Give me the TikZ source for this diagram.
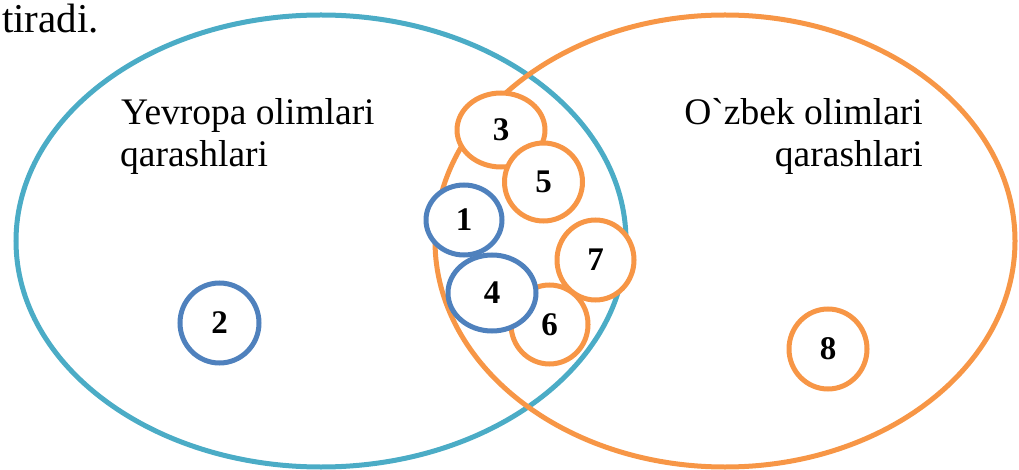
\documentclass[tikz,border=0pt]{standalone}
\usepackage{fontspec}
\setmainfont{Liberation Serif}
\newfontfamily\gravefont{Liberation Serif}
\usetikzlibrary{shapes.geometric}
\definecolor{setblue}{HTML}{4BACC6}
\definecolor{setorange}{HTML}{F79646}
\definecolor{itemblue}{HTML}{4F81BD}
\tikzset{
  bigset/.style={ellipse, line width=5pt, inner sep=0pt},
  item/.style={ellipse, line width=5pt, fill=white, inner sep=0pt,
    font=\fontsize{33}{40}\selectfont\bfseries},
  blueitem/.style={item, draw=itemblue},
  orangeitem/.style={item, draw=setorange},
  label/.style={inner sep=0pt, font=\fontsize{37.5}{45}\selectfont}
}
\begin{document}
\begin{tikzpicture}[x=1pt,y=-1pt]
\useasboundingbox (0,0) rectangle (1019,470);
\clip (0,0) rectangle (1019,470);
\node[label, anchor=base east, font=\fontsize{41}{48}\selectfont] (intro) at (99,33) {tiradi.};
% big sets
\node[bigset, draw=setblue, minimum width=610pt, minimum height=452pt] (europe) at (321,241) {};
\node[bigset, draw=setorange, minimum width=580pt, minimum height=452pt] (uzbek) at (725,241) {};
% labels
\node[label, anchor=base west] (eu1) at (121,125) {Yevropa olimlari};
\node[label, anchor=base west] (eu2) at (120,167) {qarashlari};
\node[label, anchor=base east] (uz1) at (923,125) {O{\gravefont\char"60}zbek olimlari};
\node[label, anchor=base east] (uz2) at (923,167) {qarashlari};
% items
\node[blueitem, minimum width=79pt, minimum height=80pt] (i2) at (219.5,323) {2};
\node[orangeitem, minimum width=78pt, minimum height=80pt] (i8) at (828,349) {8};
\node[orangeitem, minimum width=88pt, minimum height=74pt] (i3) at (501,130) {3};
\node[orangeitem, minimum width=78pt, minimum height=78pt] (i5) at (543.5,182) {5};
\node[blueitem, minimum width=76pt, minimum height=70pt] (i1) at (464,220) {1};
\node[orangeitem, minimum width=77pt, minimum height=79pt] (i6) at (549.5,324.5) {6};
\node[blueitem, minimum width=88pt, minimum height=76pt] (i4) at (492,293) {4};
\node[orangeitem, minimum width=77pt, minimum height=80pt] (i7) at (595.5,260) {7};
\end{tikzpicture}
\end{document}
